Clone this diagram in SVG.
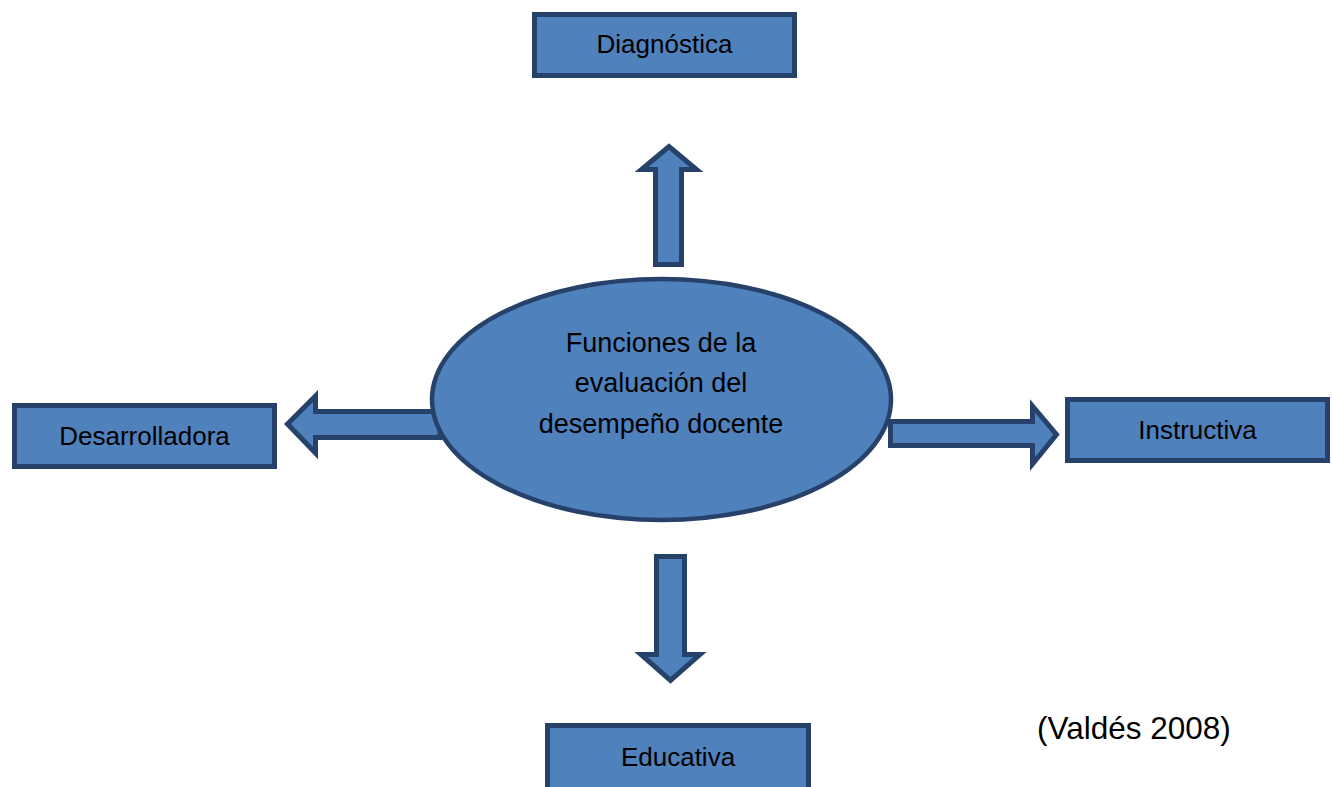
<svg xmlns="http://www.w3.org/2000/svg" width="1332" height="787" viewBox="0 0 1332 787">
  <style>
    .shape { fill: #4F81BD; stroke: #27426A; stroke-width: 5; stroke-linejoin: miter; }
    .ell { fill: #4F81BD; stroke: #27426A; stroke-width: 4.5; }
    .lbl { font-family: "Liberation Sans", Arial, sans-serif; font-size: 26px; fill: #000; text-anchor: middle; }
    .big { font-size: 27px; }
    .src { font-family: "Liberation Sans", Arial, sans-serif; font-size: 31.5px; fill: #000; }
  </style>
  <rect width="1332" height="787" fill="#FFFFFF"/>
  <g id="connectors">
    <polygon class="shape" points="655.5,264.5 655.5,169.5 641.5,169.5 669,146.5 696.5,169.5 681.5,169.5 681.5,264.5"/>
    <polygon class="shape" points="656.5,556.5 684.5,556.5 684.5,654.5 700,654.5 670.5,680.5 641,654.5 656.5,654.5"/>
    <polygon class="shape" points="440,411.5 315.5,411.5 315.5,396 287.5,424 315.5,453 315.5,437.5 440,437.5"/>
    <polygon class="shape" points="890.5,421.5 1032.5,421.5 1032.5,406 1056.5,434.5 1032.5,464 1032.5,445.5 890.5,445.5"/>
  </g>
  <g id="center">
    <ellipse class="ell" cx="661.5" cy="399.5" rx="229.5" ry="120.5"/>
    <text class="lbl big" x="661" y="352">Funciones de la</text>
    <text class="lbl big" x="661" y="392">evaluación del</text>
    <text class="lbl big" x="661" y="433">desempeño docente</text>
  </g>
  <g id="diagnostica">
    <rect class="shape" x="534.5" y="14.5" width="260" height="61"/>
    <text class="lbl" x="664.5" y="53">Diagnóstica</text>
  </g>
  <g id="desarrolladora">
    <rect class="shape" x="14.5" y="405.5" width="260" height="61"/>
    <text class="lbl" x="144.5" y="445">Desarrolladora</text>
  </g>
  <g id="instructiva">
    <rect class="shape" x="1067.5" y="399.5" width="260" height="61"/>
    <text class="lbl" x="1197.5" y="439">Instructiva</text>
  </g>
  <g id="educativa">
    <rect class="shape" x="547.5" y="725.5" width="261" height="70"/>
    <text class="lbl" x="678" y="766">Educativa</text>
  </g>
  <g id="source">
    <text class="src" x="1037" y="739">(Valdés 2008)</text>
  </g>
</svg>
